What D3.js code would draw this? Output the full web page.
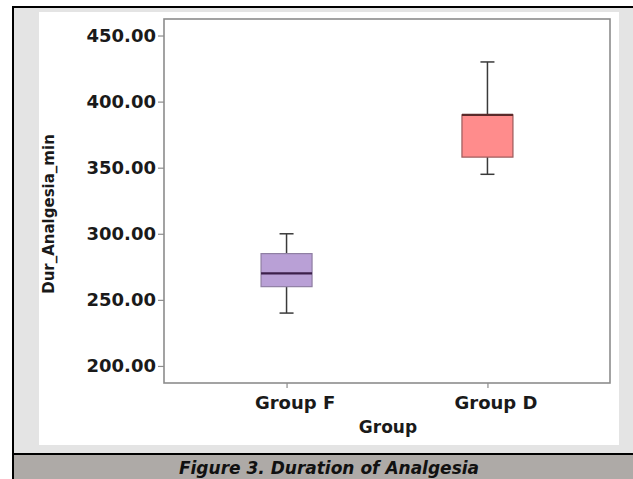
<!DOCTYPE html>
<html>
<head>
<meta charset="utf-8">
<script src="https://cdn.jsdelivr.net/npm/d3@7"></script>
<style>
  html, body { margin: 0; padding: 0; background: #ffffff; }
  svg { display: block; }
</style>
</head>
<body>
<script>
// Box-plot summaries for the duration of analgesia (minutes)
const groups   = ["Group F", "Group D"];
const whiskLo  = [240, 345];
const q1       = [260, 358];
const medians  = [270, 390];
const q3       = [285, 390];
const whiskHi  = [300, 430];
const yTicks   = [200, 250, 300, 350, 400, 450];
const fills    = ["#b9a0d6", "#ff8c8c"];
const strokes  = ["#8f7fa3", "#9c5a5a"];
const medCols  = ["#3c1f4a", "#5a2a2a"];

const W = 633, H = 479;
const svg = d3.select("body").append("svg").attr("width", W).attr("height", H);

// Figure panel: light grey surround, white chart area, black rules, caption band
svg.append("rect").attr("x", 12).attr("y", 6).attr("width", W - 12).attr("height", H - 6).attr("fill", "#e4e4e4");
svg.append("rect").attr("x", 39).attr("y", 12).attr("width", 580).attr("height", 433).attr("fill", "#ffffff");
svg.append("rect").attr("x", 12).attr("y", 455).attr("width", W - 12).attr("height", H - 455).attr("fill", "#aeaaa7");
svg.append("line").attr("x1", 13).attr("x2", 13).attr("y1", 6).attr("y2", H).attr("stroke", "#000").attr("stroke-width", 2);
svg.append("line").attr("x1", 12).attr("x2", W).attr("y1", 7).attr("y2", 7).attr("stroke", "#000").attr("stroke-width", 2);
svg.append("line").attr("x1", 12).attr("x2", W).attr("y1", 454).attr("y2", 454).attr("stroke", "#000").attr("stroke-width", 2);

const plot = { left: 164, right: 610, top: 19, bottom: 383 };

const y = d3.scaleLinear().domain([187.1, 462.5]).range([plot.bottom, plot.top]);
const x = d3.scalePoint().domain(groups).range([plot.left, plot.right]).padding(0.61);

const font = "'DejaVu Sans', Verdana, sans-serif";

// Y axis
const yAxis = svg.append("g")
  .attr("transform", `translate(${plot.left},0)`)
  .call(d3.axisLeft(y).tickValues(yTicks).tickFormat(d3.format(".2f")).tickSize(6).tickPadding(2));
yAxis.select(".domain").remove();
yAxis.selectAll(".tick line").attr("stroke", "#8c8c8c").attr("stroke-width", 1.2);
yAxis.selectAll(".tick text")
  .attr("font-family", font).attr("font-weight", "bold").attr("font-size", 18)
  .attr("fill", "#1a1a1a");

// X axis
const xAxis = svg.append("g")
  .attr("transform", `translate(0,${plot.bottom})`)
  .call(d3.axisBottom(x).tickSize(5).tickPadding(8));
xAxis.select(".domain").remove();
xAxis.selectAll(".tick line").attr("stroke", "#8c8c8c").attr("stroke-width", 1.2);
xAxis.selectAll(".tick text")
  .attr("font-family", font).attr("font-weight", "bold").attr("font-size", 18)
  .attr("fill", "#1a1a1a").attr("dx", 8);

// Plot frame
svg.append("rect")
  .attr("x", plot.left).attr("y", plot.top)
  .attr("width", plot.right - plot.left).attr("height", plot.bottom - plot.top)
  .attr("fill", "none").attr("stroke", "#8c8c8c").attr("stroke-width", 1.6);

// Boxes
const boxW = 51, capW = 14;
const data = groups.map((g, i) => ({
  g, lo: whiskLo[i], q1: q1[i], med: medians[i], q3: q3[i], hi: whiskHi[i],
  fill: fills[i], stroke: strokes[i], med_c: medCols[i]
}));

const box = svg.append("g").selectAll("g").data(data).join("g")
  .attr("transform", d => `translate(${x(d.g)},0)`);

// whisker stems
box.append("line").attr("x1", 0).attr("x2", 0)
  .attr("y1", d => y(d.hi)).attr("y2", d => y(d.q3))
  .attr("stroke", "#3a3a3a").attr("stroke-width", 1.5);
box.append("line").attr("x1", 0).attr("x2", 0)
  .attr("y1", d => y(d.q1)).attr("y2", d => y(d.lo))
  .attr("stroke", "#3a3a3a").attr("stroke-width", 1.5);
// caps
box.append("line").attr("x1", -capW / 2).attr("x2", capW / 2)
  .attr("y1", d => y(d.hi)).attr("y2", d => y(d.hi))
  .attr("stroke", "#3a3a3a").attr("stroke-width", 1.5);
box.append("line").attr("x1", -capW / 2).attr("x2", capW / 2)
  .attr("y1", d => y(d.lo)).attr("y2", d => y(d.lo))
  .attr("stroke", "#3a3a3a").attr("stroke-width", 1.5);
// interquartile box
box.append("rect")
  .attr("x", -boxW / 2).attr("width", boxW)
  .attr("y", d => y(d.q3)).attr("height", d => y(d.q1) - y(d.q3))
  .attr("fill", d => d.fill).attr("stroke", d => d.stroke).attr("stroke-width", 1.2);
// median
box.append("line").attr("x1", -boxW / 2).attr("x2", boxW / 2)
  .attr("y1", d => y(d.med)).attr("y2", d => y(d.med))
  .attr("stroke", d => d.med_c).attr("stroke-width", 2.2);

// Axis titles
svg.append("text")
  .attr("x", (plot.left + plot.right) / 2 + 1).attr("y", 433)
  .attr("text-anchor", "middle")
  .attr("font-family", font).attr("font-weight", "bold").attr("font-size", 17)
  .attr("fill", "#1a1a1a").text("Group");

svg.append("text")
  .attr("transform", `translate(54,214) rotate(-90)`)
  .attr("text-anchor", "middle")
  .attr("font-family", font).attr("font-weight", "bold").attr("font-size", 15)
  .attr("fill", "#1a1a1a").text("Dur_Analgesia_min");

// Caption
svg.append("text")
  .attr("x", 329).attr("y", 474)
  .attr("text-anchor", "middle")
  .attr("font-family", font).attr("font-weight", "bold").attr("font-style", "italic").attr("font-size", 17)
  .attr("fill", "#111").text("Figure 3. Duration of Analgesia");
</script>
</body>
</html>
